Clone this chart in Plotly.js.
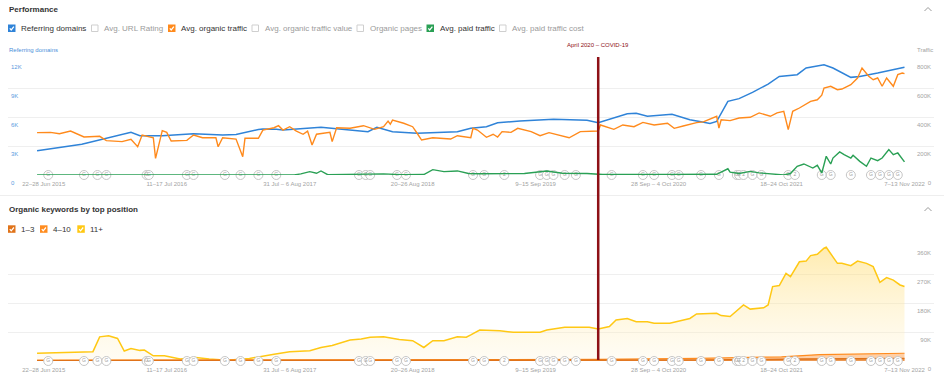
<!DOCTYPE html>
<html><head><meta charset="utf-8">
<script src="https://cdn.plot.ly/plotly-3.0.1.min.js"></script>
<style>html,body{margin:0;padding:0;background:#fff;overflow:hidden}#chart{width:944px;height:385px}</style>
</head><body><div id="chart"></div>
<script>
// x values: weeks since 22 Jun 2015
const tickWeeks = [0, 55, 110, 165, 220, 275, 330, 385];
const tickLabels = ['22–28 Jun 2015', '11–17 Jul 2016', '31 Jul – 6 Aug 2017', '20–26 Aug 2018', '9–15 Sep 2019', '28 Sep – 4 Oct 2020', '18–24 Oct 2021', '7–13 Nov 2022'];
const covidWeek = 248;
const covidLabel = 'April 2020 – COVID-19';

const refDomWeeks = [-3,17,39,43,53,67,80,86,96,98,104,107,124,137,145,149,156,167,174,185,191,195,198,203,213,228,243,248,253,261,265,270,281,289,294,298,301,306,311,317,324,329,337,341,349,353,361,365,373,385];
const refDomValues = [2500,3180,4420,4070,4070,4270,4140,4200,4700,4760,4730,4650,4930,4690,4480,4930,4480,4310,4380,4480,4830,4930,5000,5410,5590,5760,5660,5410,5790,6340,6380,6070,6280,5720,5510,5340,5550,7620,7900,8550,9410,10200,10380,11070,11410,11070,10100,10200,10550,11140];

const orgWeeks = [-3,3,7,12,18,25,28,35,39,42,44,49,50,53,55,57,64,67,71,77,78,80,86,89,90,96,98,103,105,107,110,113,116,118,120,122,128,129,131,137,143,146,148,152,154,155,156,161,165,167,169,174,182,185,191,192,194,198,201,203,205,209,212,218,222,226,231,235,240,244,248,249,255,259,264,268,273,279,282,286,292,295,299,301,302,303,307,311,316,320,325,328,331,333,335,338,343,346,348,349,352,355,357,361,364,366,369,371,373,375,377,380,382,384,385];
const orgValues = [292000,294000,285000,303000,262000,267000,237000,230000,246000,195000,276000,257000,115000,306000,294000,234000,239000,276000,257000,257000,195000,257000,248000,126000,253000,253000,310000,326000,340000,310000,333000,303000,281000,303000,207000,281000,294000,230000,326000,322000,340000,322000,315000,333000,372000,350000,379000,357000,333000,288000,241000,257000,248000,271000,257000,322000,310000,260000,281000,262000,299000,294000,322000,299000,271000,292000,271000,257000,299000,299000,303000,345000,315000,345000,333000,363000,345000,357000,322000,338000,361000,366000,393000,405000,324000,381000,375000,393000,398000,428000,405000,428000,439000,313000,439000,462000,508000,519000,550000,600000,612000,588000,593000,623000,669000,738000,681000,657000,669000,612000,669000,612000,692000,703000,699000];

const paidWeeks = [-3,112,115,119,122,124,127,140,152,160,170,174,179,185,190,195,205,215,225,232,243,250,280,294,301,306,307,311,316,320,327,331,334,337,340,344,346,348,350,352,353,356,358,361,362,365,368,370,373,375,378,380,382,385];
const paidValues = [0,0,8000,23000,12000,28000,2000,3000,8000,2000,3000,37000,23000,28000,10000,9000,12000,10000,28000,12000,10000,3000,3000,4000,5000,43000,20000,10000,25000,15000,5000,0,10000,60000,76000,48000,67000,14000,129000,76000,117000,159000,140000,117000,136000,94000,60000,117000,99000,117000,175000,140000,152000,90000];

const kw11Weeks = [-3,7,22,25,29,33,36,39,43,45,49,54,61,68,74,82,92,103,110,119,124,129,137,142,146,152,159,165,170,174,179,185,189,191,195,204,210,222,225,233,244,248,253,256,261,265,270,273,280,289,292,301,303,307,313,316,322,324,326,329,332,334,338,341,343,346,349,350,353,355,357,361,364,368,371,374,377,380,383,385];
const kw11Values = [24000,26000,29000,75000,78000,70000,31000,39000,33000,34000,16000,16000,6000,11000,6000,2000,8000,21000,29000,32000,42000,48000,65000,68000,74000,75000,67000,63000,42000,63000,63000,75000,74000,81000,96000,94000,89000,89000,96000,105000,105000,99000,107000,127000,132000,122000,122000,117000,117000,132000,146000,148000,141000,138000,174000,161000,165000,174000,231000,234000,272000,262000,308000,310000,327000,331000,350000,353000,324000,303000,303000,296000,310000,303000,293000,244000,259000,251000,236000,231000];

const kw4Weeks = [-3,100,200,248,293,330,347,360,385];
const kw4Values = [3000,3000,4000,5000,8000,13000,20000,22000,24000];
const kw1Weeks = [-3,248,293,340,385];
const kw1Values = [1000,2000,3000,6000,8000];

const eventWeeks = [2,18,24,28,46,47,64,67,81,88,96,104,141,144,146,158,162,192,197,206,222,225,228,233,238,254,268,273,281,284,294,302,310,311,313,317,321,333,336,348,352,361,370,374,378,382];
const eventLabels = eventWeeks.map(w => (w === 206 || w === 313 || w === 336) ? '2' : 'G');

const perfItems = ['Referring domains','Avg. URL Rating','Avg. organic traffic','Avg. organic traffic value','Organic pages','Avg. paid traffic','Avg. paid traffic cost'];
const perfChecked = [true,false,true,false,false,true,false];
const perfColors = ['#2f83d8',null,'#ff8a1c',null,null,'#2aa055',null];
const kwItems = ['1–3','4–10','11+'];
const kwColors = ['#e0731a','#ff8c1f','#ffc814'];

const yLeftTicks = [0,3000,6000,9000,12000];
const yLeftText = ['0','3K','6K','9K','12K'];
const yRightTicks = [0,200000,400000,600000,800000];
const yRightText = ['0','200K','400K','600K','800K'];
const yKwTicks = [0,90000,180000,270000,360000];
const yKwText = ['0','90K','180K','270K','360K'];

// ---- layout helpers (pixel -> paper)
const W = 944, H = 385;
const px = x => x / W;
const py = y => 1 - y / H;
const FONT = 'Liberation Sans, Arial, sans-serif';

const xRange = [-16, 398.2];
const xDom = [px(8), px(934)];
const topDom = [py(175), py(59)];
const botDom = [py(361), py(245)];

const markerStyle = {size: 9, color: '#ffffff', line: {color: '#c6c6c6', width: 1}};
const traces = [
  {x: refDomWeeks, y: refDomValues, xaxis: 'x', yaxis: 'y', mode: 'lines', line: {color: '#2f83d8', width: 1.5}},
  {x: orgWeeks, y: orgValues, xaxis: 'x', yaxis: 'y2', mode: 'lines', line: {color: '#ff8a1c', width: 1.4}},
  {x: paidWeeks, y: paidValues, xaxis: 'x', yaxis: 'y2', mode: 'lines', line: {color: '#2aa055', width: 1.4}},
  {x: eventWeeks, y: eventWeeks.map(() => 0), text: eventLabels, xaxis: 'x', yaxis: 'y', mode: 'markers+text', textposition: 'middle center', textfont: {size: 5, color: '#a0a0a0', family: FONT}, marker: markerStyle, cliponaxis: false},
  {x: kw11Weeks, y: kw11Values, xaxis: 'x2', yaxis: 'y3', mode: 'lines', fill: 'tozeroy', line: {color: '#ffc814', width: 1.5},
   fillgradient: {type: 'vertical', colorscale: [[0, 'rgba(255,244,214,0.25)'], [1, 'rgba(255,216,96,0.5)']]}},
  {x: kw4Weeks, y: kw4Values, xaxis: 'x2', yaxis: 'y3', mode: 'lines', fill: 'tozeroy', fillcolor: 'rgba(255,170,100,0.55)', line: {color: '#ff8c1f', width: 1.2}},
  {x: kw1Weeks, y: kw1Values, xaxis: 'x2', yaxis: 'y3', mode: 'lines', fill: 'tozeroy', fillcolor: 'rgba(224,115,26,0.6)', line: {color: '#e0731a', width: 1.5}},
  {x: eventWeeks, y: eventWeeks.map(() => 0), text: eventLabels, xaxis: 'x2', yaxis: 'y3', mode: 'markers+text', textposition: 'middle center', textfont: {size: 5, color: '#a0a0a0', family: FONT}, marker: markerStyle, cliponaxis: false}
];
traces.forEach(t => { t.showlegend = false; t.hoverinfo = 'skip'; });

const yCommon = {ticks: '', zeroline: false, ticklabelposition: 'inside', ticklabelshift: 8, ticklabelstandoff: 0, ticklabeloverflow: 'allow', fixedrange: true, gridcolor: '#efefef', gridwidth: 1};
const xCommon = {domain: xDom, range: xRange, tickmode: 'array', tickvals: tickWeeks, ticktext: tickLabels, showgrid: false, zeroline: false, ticks: '', showline: false, ticklabelstandoff: 4, tickfont: {size: 6, color: '#a3a3a3', family: FONT}, fixedrange: true};

const shapes = [];
const annotations = [];
function label(x, y, text, opts) {
  annotations.push(Object.assign({xref: 'paper', yref: 'paper', x: px(x), y: py(y), text: text, showarrow: false, xanchor: 'left', yanchor: 'middle', borderpad: 0,
    font: {size: 8, color: '#333333', family: FONT}}, opts || {}));
}
function checkbox(x, y, color) {
  const s = 7.5;
  if (color) {
    shapes.push({type: 'rect', xref: 'paper', yref: 'paper', x0: px(x), x1: px(x + s), y0: py(y + s), y1: py(y), fillcolor: color, line: {width: 0}});
    const p = [[x + 1.8, y + 3.9], [x + 3.2, y + 5.5], [x + 5.9, y + 2.2]];
    shapes.push({type: 'path', xref: 'paper', yref: 'paper', path: 'M' + p.map(q => px(q[0]) + ',' + py(q[1])).join(' L'), line: {color: '#ffffff', width: 1.2}});
  } else {
    shapes.push({type: 'rect', xref: 'paper', yref: 'paper', x0: px(x + 0.5), x1: px(x + s - 0.5), y0: py(y + s - 0.5), y1: py(y + 0.5), fillcolor: '#ffffff', line: {color: '#cfcfcf', width: 1}});
  }
}
function chevron(x, y) {
  shapes.push({type: 'path', xref: 'paper', yref: 'paper', path: 'M' + px(x - 3.5) + ',' + py(y + 2) + ' L' + px(x) + ',' + py(y - 1.5) + ' L' + px(x + 3.5) + ',' + py(y + 2), line: {color: '#9a9a9a', width: 1}});
}

// Headers
label(8, 9, 'Performance', {font: {size: 8, color: '#333333', family: FONT, weight: 'bold'}});
chevron(928, 9);
const perfX = [8, 91, 168, 251.5, 356.5, 426.5, 499];
perfItems.forEach((t, i) => {
  checkbox(perfX[i], 24.5, perfColors[i]);
  label(perfX[i] + 12, 28.5, t, {font: {size: 8, color: perfChecked[i] ? '#333333' : '#9b9b9b', family: FONT}});
});
label(8, 50, 'Referring domains', {font: {size: 6, color: '#4a90d9', family: FONT}});
label(934, 50, 'Traffic', {xanchor: 'right', font: {size: 6, color: '#a3a3a3', family: FONT}});

// separator
shapes.push({type: 'line', xref: 'paper', yref: 'paper', x0: 0, x1: 1, y0: py(195.5), y1: py(195.5), line: {color: '#eeeeee', width: 1}});

label(8, 210, 'Organic keywords by top position', {font: {size: 8, color: '#333333', family: FONT, weight: 'bold'}});
chevron(928, 209);
const kwX = [8, 40, 77.3];
kwItems.forEach((t, i) => {
  checkbox(kwX[i], 225.3, kwColors[i]);
  label(kwX[i] + 12, 229.3, t, {font: {size: 8, color: '#333333', family: FONT}});
});

// COVID marker
shapes.push({type: 'line', xref: 'x', yref: 'paper', x0: covidWeek, x1: covidWeek, y0: py(360), y1: py(57), line: {color: '#8e1116', width: 2.5}});
annotations.push({xref: 'x', yref: 'paper', x: covidWeek, y: py(45), text: covidLabel, showarrow: false, xanchor: 'center', yanchor: 'middle', font: {size: 6, color: '#8e1116', family: FONT}});

const layout = {
  width: W, height: H, margin: {l: 0, r: 0, t: 0, b: 0}, paper_bgcolor: '#ffffff', plot_bgcolor: 'rgba(0,0,0,0)',
  font: {family: FONT},
  xaxis: Object.assign({}, xCommon, {anchor: 'y'}),
  xaxis2: Object.assign({}, xCommon, {anchor: 'y3'}),
  yaxis: Object.assign({}, yCommon, {domain: topDom, range: [0, 12000], tickmode: 'array', tickvals: yLeftTicks, ticktext: yLeftText, showgrid: true, side: 'left', tickfont: {size: 6, color: '#5b9be0', family: FONT}}),
  yaxis2: Object.assign({}, yCommon, {overlaying: 'y', side: 'right', range: [0, 800000], tickmode: 'array', tickvals: yRightTicks, ticktext: yRightText, showgrid: false, tickfont: {size: 6, color: '#a3a3a3', family: FONT}}),
  yaxis3: Object.assign({}, yCommon, {domain: botDom, anchor: 'x2', side: 'right', range: [0, 360000], tickmode: 'array', tickvals: yKwTicks, ticktext: yKwText, showgrid: true, tickfont: {size: 6, color: '#a3a3a3', family: FONT}}),
  shapes: shapes, annotations: annotations, showlegend: false, hovermode: false
};
Plotly.newPlot('chart', traces, layout, {displayModeBar: false, staticPlot: true});
</script></body></html>
